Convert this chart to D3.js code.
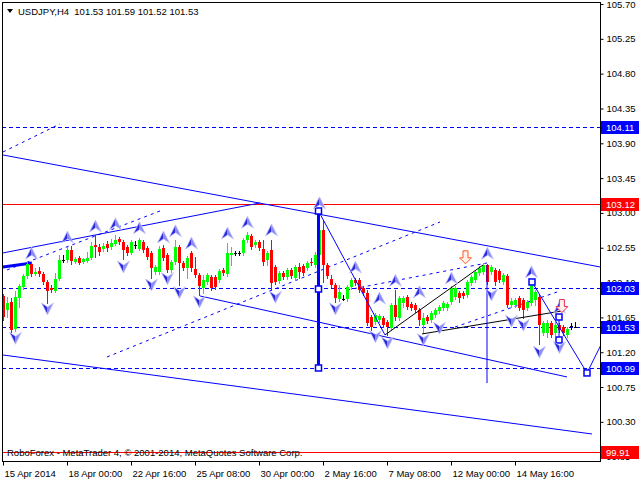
<!DOCTYPE html>
<html><head><meta charset="utf-8">
<script src="https://cdn.jsdelivr.net/npm/d3@7"></script>
<style>
body{margin:0;background:#fff}
svg{display:block}
text{font-family:"Liberation Sans",Arial,sans-serif;font-size:9.5px}
</style>
</head><body>
<svg id="c" width="640" height="480"></svg>
<script>
// ---------- DATA ----------
const symbolTitle = "USDJPY,H4  101.53 101.59 101.52 101.53";
const copyright = "RoboForex - MetaTrader 4, \u00a9 2001-2014, MetaQuotes Software Corp.";
const opens = [101.93,101.75,101.85,101.50,101.90,102.04,102.19,102.34,102.21,102.25,
102.21,102.11,102.03,101.99,102.15,102.39,102.39,102.52,102.37,102.42,
102.37,102.38,102.42,102.59,102.56,102.53,102.60,102.56,102.60,102.66,
102.63,102.56,102.48,102.59,102.53,102.63,102.55,102.48,102.24,102.24,
102.55,102.46,102.26,102.37,102.56,102.35,102.29,102.48,102.28,102.20,
102.03,102.11,102.17,102.17,102.13,102.26,102.21,102.46,102.48,102.48,
102.48,102.65,102.70,102.59,102.63,102.53,102.39,102.52,102.30,102.12,
102.22,102.17,102.26,102.16,102.30,102.31,102.29,102.37,102.33,102.46,
102.78,102.33,102.15,102.07,101.89,101.89,101.89,102.04,102.13,102.13,
102.03,101.97,101.66,101.59,101.62,101.64,101.59,101.51,101.81,101.64,
101.84,101.91,101.82,101.81,101.75,101.55,101.66,101.62,101.68,101.73,
101.77,101.77,101.85,101.91,101.97,101.97,101.94,102.10,102.13,102.22,
102.24,102.33,102.24,102.26,102.25,102.11,102.19,101.81,101.81,101.90,
101.88,101.77,101.84,101.88,101.91,101.45,101.45,101.58,101.45,101.55,
101.53,101.42,101.54,101.53];
const highs = [101.95,101.91,101.90,101.99,102.08,102.21,102.37,102.37,102.29,102.30,
102.24,102.13,102.07,102.22,102.46,102.46,102.56,102.57,102.43,102.44,
102.42,102.50,102.63,102.72,102.60,102.61,102.64,102.66,102.72,102.69,
102.65,102.59,102.65,102.64,102.68,102.65,102.57,102.51,102.33,102.57,
102.59,102.48,102.39,102.65,102.59,102.38,102.44,102.51,102.43,102.22,
102.20,102.22,102.20,102.20,102.28,102.29,102.61,102.56,102.51,102.51,
102.68,102.75,102.73,102.65,102.65,102.65,102.51,102.65,102.33,102.25,
102.25,102.29,102.29,102.33,102.35,102.34,102.38,102.42,102.50,103.01,
102.91,102.35,102.20,102.09,102.07,101.94,102.07,102.16,102.16,102.16,
102.06,102.00,101.68,101.71,101.69,101.67,101.62,101.84,102.00,101.93,
101.93,101.94,101.85,101.84,101.77,101.71,101.68,101.73,101.77,101.81,
101.86,101.85,102.06,102.06,101.99,101.99,102.13,102.20,102.26,102.31,
102.35,102.34,102.33,102.29,102.28,102.22,102.21,101.90,101.90,101.93,
101.90,101.88,102.13,102.00,101.94,101.60,101.62,101.60,101.59,101.58,
101.55,101.53,101.58,101.59];
const lows = [101.62,101.66,101.46,101.47,101.78,102.02,102.16,102.19,102.20,102.19,
102.08,101.84,101.98,101.98,102.13,102.37,102.37,102.34,102.35,102.34,
102.35,102.37,102.41,102.43,102.46,102.51,102.51,102.53,102.59,102.60,
102.41,102.46,102.47,102.55,102.52,102.50,102.41,102.16,102.21,102.21,
102.39,102.24,102.24,102.34,102.07,102.26,102.16,102.25,102.17,101.94,
101.97,102.08,102.00,102.02,102.11,102.20,102.19,102.33,102.46,102.46,
102.46,102.63,102.53,102.56,102.52,102.33,102.33,102.00,102.08,102.10,
102.15,102.15,102.16,102.13,102.16,102.20,102.26,102.33,102.30,102.43,
102.11,102.16,102.04,101.85,101.86,101.88,101.86,102.02,102.07,101.98,
101.94,101.55,101.49,101.57,101.59,101.53,101.42,101.49,101.62,101.62,
101.78,101.76,101.75,101.72,101.55,101.45,101.58,101.59,101.66,101.71,
101.75,101.75,101.82,101.89,101.85,101.90,101.91,102.07,102.11,102.20,
102.21,102.08,102.21,102.07,102.11,102.08,101.78,101.78,101.78,101.75,
101.64,101.75,101.81,101.81,101.31,101.42,101.40,101.40,101.42,101.46,
101.42,101.40,101.50,101.52];
const closes = [101.66,101.84,101.49,101.91,102.06,102.19,102.34,102.21,102.24,102.21,
102.11,101.99,102.00,102.15,102.39,102.39,102.52,102.38,102.41,102.35,
102.41,102.42,102.57,102.56,102.50,102.57,102.55,102.61,102.65,102.63,
102.52,102.48,102.63,102.59,102.65,102.52,102.43,102.29,102.30,102.53,
102.42,102.26,102.37,102.56,102.35,102.29,102.42,102.29,102.20,102.06,
102.13,102.20,102.03,102.04,102.25,102.22,102.48,102.48,102.48,102.48,
102.65,102.72,102.56,102.63,102.55,102.37,102.48,102.10,102.11,102.22,
102.17,102.26,102.19,102.30,102.24,102.22,102.35,102.35,102.46,102.78,
102.33,102.19,102.07,101.90,101.98,101.89,102.04,102.13,102.10,102.00,
101.97,101.58,101.53,101.68,101.67,101.55,101.53,101.81,101.66,101.90,
101.90,101.78,101.77,101.75,101.62,101.64,101.60,101.71,101.75,101.78,
101.84,101.82,102.03,102.03,101.90,101.93,102.11,102.17,102.24,102.29,
102.33,102.11,102.30,102.11,102.13,102.20,101.81,101.86,101.88,101.77,
101.75,101.85,102.07,101.98,101.55,101.58,101.58,101.42,101.55,101.49,
101.45,101.50,101.54,101.53];

const xTickIdx = [0,16,32,48,64,80,96,112,128];
const xTickLabels = ["15 Apr 2014","18 Apr 00:00","22 Apr 16:00","25 Apr 08:00","30 Apr 00:00",
                     "2 May 16:00","7 May 08:00","12 May 00:00","14 May 16:00"];
const yTicks = [105.70,105.25,104.80,104.35,103.90,103.45,103.00,102.55,102.10,101.65,101.20,100.75,100.30,99.85];

const blueLevels = [104.11,102.03,101.53,100.99];
const redLevels = [103.12,99.91];

// drawn trend lines: [[barIndex, price],[barIndex, price]]
const solidLines = [
  [[-0.125,103.749],[149.125,102.302]],
  [[-0.125,102.483],[64.125,103.129]],
  [[49.125,101.927],[140.875,100.880]],
  [[-0.125,101.164],[147.125,100.143]]
];
const thickLines = [ [[-0.125,102.302],[7.125,102.353]] ];
const dottedLines = [
  [[0.875,102.263],[39.125,103.025]],
  [[-0.125,103.788],[14.125,104.150]],
  [[25.875,101.138],[109.125,102.883]],
  [[85.875,102.004],[120.875,102.353]],
  [[112.875,101.526],[138.375,101.978]]
];
const blackLines = [
  [[95.375,101.423],[119.875,102.327]],
  [[104.625,101.436],[139.625,101.733]]
];
const zigzag1 = [[78.75,103.025],[95.375,101.423]];
const zigzag2 = [[132.125,102.108],[145.875,100.932],[152.5,101.62]];
const vLineThin = [[120.875,102.327],[120.875,100.802]];
const vLineSmall = [[138.875,101.655],[138.875,101.358]];
const vLineThick = [[78.75,103.025],[78.75,100.996]];
const squares = [[78.75,103.025],[78.75,102.017],[78.75,100.996],[132.125,102.108],
                 [138.875,101.655],[138.875,101.358],[145.875,100.932]];

const upArrows = [[7,102.48],[16,102.69],[23,102.83],[28,102.86],[34,102.81],[40,102.69],[43,102.77],
  [47,102.61],[56,102.74],[61,102.88],[67,102.78],[79,103.13],[88,102.30],[94,101.90],[98,102.13],
  [104,101.98],[112,102.16],[121,102.48],[132,102.24],[139,101.78]];
const downArrows = [[3,101.38],[11,101.76],[30,102.30],[37,102.07],[41,102.15],[44,101.97],[49,101.85],
  [68,101.91],[83,101.76],[93,101.40],[96,101.32],[105,101.36],[109,101.51],[122,101.94],[127,101.60],
  [130,101.55],[134,101.20],[139,101.26]];
const hollowDownArrows = [[115.5,102.42,"#ff5a1e"],[139.6,101.79,"#e8305a"]];

// ---------- SCALES ----------
const W=640,H=480, L=2, R=600, T=2, B=461;
const x = d3.scaleLinear().domain([0,149]).range([3.5,599.5]);
const y = d3.scaleLinear().domain([99.794,105.726]).range([B,T]);

const svg = d3.select("#c");
svg.append("rect").attr("width",W).attr("height",H).attr("fill","#fff");
svg.append("clipPath").attr("id","clip").append("rect")
  .attr("x",L+1).attr("y",T+1).attr("width",R-L-1).attr("height",B-T-1);
const g = svg.append("g").attr("clip-path","url(#clip)");

// horizontal levels
g.selectAll(".bl").data(blueLevels).join("line")
  .attr("x1",L).attr("x2",R).attr("y1",d=>Math.round(y(d))+0.5).attr("y2",d=>Math.round(y(d))+0.5)
  .attr("stroke","#0000ff").attr("stroke-dasharray","4,3");
g.selectAll(".rl").data(redLevels).join("line")
  .attr("x1",L).attr("x2",R).attr("y1",d=>Math.round(y(d))+0.5).attr("y2",d=>Math.round(y(d))+0.5)
  .attr("stroke","#ff0000");

// copyright
svg.append("text").attr("x",7).attr("y",456).attr("fill","#000").text(copyright);

const line = d3.line().x(d=>x(d[0])).y(d=>y(d[1]));
g.selectAll(".sl").data(solidLines).join("path").attr("d",line).attr("fill","none").attr("stroke","#0000ff");
g.selectAll(".tl").data(thickLines).join("path").attr("d",line).attr("fill","none").attr("stroke","#0000ff").attr("stroke-width",3);
g.selectAll(".dl").data(dottedLines).join("path").attr("d",line).attr("fill","none").attr("stroke","#0000ff").attr("stroke-dasharray","3,4");

// candles
const bars = opens.map((o,i)=>({i,o,h:highs[i],l:lows[i],c:closes[i]}));
const col = d=> d.c>d.o ? "#00ff00" : (d.c<d.o ? "#ff0000" : "#000000");
const cg = g.append("g").attr("shape-rendering","crispEdges");
cg.selectAll(".w").data(bars).join("line")
  .attr("x1",d=>x(d.i)).attr("x2",d=>x(d.i))
  .attr("y1",d=>Math.round(y(d.h))).attr("y2",d=>Math.round(y(d.l))+1)
  .attr("stroke",col);
cg.selectAll(".b").data(bars).join("rect")
  .attr("x",d=>x(d.i)-1.5).attr("width",3)
  .attr("y",d=>Math.round(y(Math.max(d.o,d.c))))
  .attr("height",d=>Math.max(1,Math.round(y(Math.min(d.o,d.c)))-Math.round(y(Math.max(d.o,d.c)))))
  .attr("fill",col);

// black trend lines and zigzags
g.selectAll(".kl").data(blackLines).join("path").attr("d",line).attr("fill","none").attr("stroke","#000");
g.append("path").attr("d",line(zigzag1)).attr("fill","none").attr("stroke","#0000ff");
g.append("path").attr("d",line(zigzag2)).attr("fill","none").attr("stroke","#0000ff");
g.append("path").attr("d",line(vLineThin)).attr("fill","none").attr("stroke","#0000ff");
g.append("path").attr("d",line(vLineSmall)).attr("fill","none").attr("stroke","#0000ff");
g.append("path").attr("d",line(vLineThick)).attr("fill","none").attr("stroke","#0000ff").attr("stroke-width",3);
g.selectAll(".sq").data(squares).join("rect")
  .attr("x",d=>x(d[0])-3).attr("y",d=>y(d[1])-3).attr("width",6).attr("height",6)
  .attr("fill","#fff").attr("stroke","#0000ff").attr("stroke-width",1.5);

// arrow markers
function arrow(sel, up){
  const s = up?1:-1;
  sel.append("path").attr("d",`M0,${-6*s} L0,${2*s} L-6,${6*s} Z`).attr("fill","#2a2ae0");
  sel.append("path").attr("d",`M0,${-6*s} L6,${6*s} L0,${2*s} Z`).attr("fill","#8c8cf4");
  sel.append("path").attr("d",`M0,${-6*s} L6,${6*s} L0,${2*s} L-6,${6*s} Z`).attr("fill","none").attr("stroke","#c8c8ff").attr("stroke-width",0.7);
}
g.selectAll(".ua").data(upArrows).join("g")
  .attr("transform",d=>`translate(${x(d[0])},${y(d[1])})`).each(function(){arrow(d3.select(this),true);});
g.selectAll(".da").data(downArrows).join("g")
  .attr("transform",d=>`translate(${x(d[0])},${y(d[1])})`).each(function(){arrow(d3.select(this),false);});
g.selectAll(".ha").data(hollowDownArrows).join("path")
  .attr("transform",d=>`translate(${x(d[0])},${y(d[1])})`)
  .attr("d","M-2.5,-7 L2.5,-7 L2.5,0 L6,0 L0,6 L-6,0 L-2.5,0 Z")
  .attr("fill","#fff0ea").attr("stroke",d=>d[2]).attr("stroke-width",1);

// frame
svg.append("rect").attr("x",L+0.5).attr("y",T+0.5).attr("width",R-L).attr("height",B-T)
  .attr("fill","none").attr("stroke","#000").attr("shape-rendering","crispEdges");

// axes
const ya = svg.append("g").attr("transform",`translate(${R+0.5},0)`)
  .call(d3.axisRight(y).tickValues(yTicks).tickSize(3).tickPadding(3).tickFormat(d=>d.toFixed(2)));
ya.select(".domain").remove();
ya.selectAll("text").attr("font-size","9.5px").attr("font-family","Liberation Sans, Arial, sans-serif").attr("fill","#000");
ya.selectAll("line").attr("stroke","#000");

const xa = svg.append("g").attr("transform",`translate(-0.5,${B+0.5})`)
  .call(d3.axisBottom(x).tickValues(xTickIdx).tickSize(4).tickPadding(3).tickFormat((d,k)=>xTickLabels[k]));
xa.select(".domain").remove();
xa.selectAll("text").attr("text-anchor","start").attr("dx","1").attr("dy","0.9em")
  .attr("font-size","9.5px").attr("font-family","Liberation Sans, Arial, sans-serif").attr("fill","#000");
xa.selectAll("line").attr("stroke","#000");

// level labels
const lv = blueLevels.map(v=>[v,"#0000ff"]).concat(redLevels.map(v=>[v,"#ff0000"]));
const lg = svg.selectAll(".lv").data(lv).join("g");
lg.append("rect").attr("x",R+1).attr("y",d=>Math.round(y(d[0]))-6).attr("width",38).attr("height",13).attr("fill",d=>d[1]);
lg.append("text").attr("x",R+6).attr("y",d=>Math.round(y(d[0]))+4).attr("fill","#fff").text(d=>d[0].toFixed(2));

// title
svg.append("path").attr("d","M7,9 L13,9 L10,13 Z").attr("fill","#000");
svg.append("text").attr("x",18).attr("y",15).attr("fill","#000").attr("xml:space","preserve").style("white-space","pre").text(symbolTitle);
</script>
</body></html>
